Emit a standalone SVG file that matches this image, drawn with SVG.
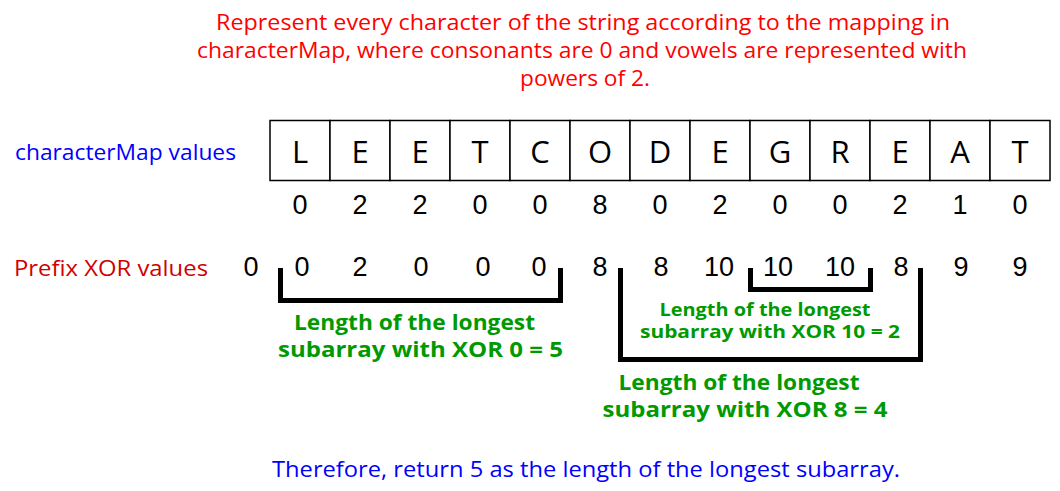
<svg xmlns="http://www.w3.org/2000/svg" width="1060" height="491" viewBox="0 0 1060 491">
<style>
.t{font-family:"Open Sans","Liberation Sans",sans-serif;text-anchor:middle}
.title{fill:#ff0000;font-size:21px}
.lab{font-family:"Open Sans","Liberation Sans",sans-serif;font-size:22px}
.blue{fill:#0000ff}
.dred{fill:#d00000}
.grn{fill:#009a00;font-weight:bold}
.g1{font-size:21px}
.g2{font-size:18px}
.cell{fill:#ffffff;stroke:#000000;stroke-width:1.5}
.ch{font-family:"Open Sans","Liberation Sans",sans-serif;font-size:31px;text-anchor:middle;fill:#000}
.num{font-family:"Liberation Sans",Arial,sans-serif;font-size:27px;text-anchor:middle;fill:#000}
.br{fill:none;stroke:#000;stroke-width:5;stroke-linejoin:miter;stroke-linecap:butt}
</style>
<rect width="1060" height="491" fill="#ffffff"/>
<g id="title">
<text class="t title" x="583" y="30" textLength="734" lengthAdjust="spacingAndGlyphs">Represent every character of the string according to the mapping in</text>
<text class="t title" x="582" y="58" textLength="770" lengthAdjust="spacingAndGlyphs">characterMap, where consonants are 0 and vowels are represented with</text>
<text class="t title" x="585" y="86" textLength="130" lengthAdjust="spacingAndGlyphs">powers of 2.</text>
</g>
<g id="labels">
<text class="lab blue" x="15" y="160" textLength="221" lengthAdjust="spacingAndGlyphs">characterMap values</text>
<text class="lab dred" x="14" y="276" textLength="194" lengthAdjust="spacingAndGlyphs">Prefix XOR values</text>
</g>
<g id="cells">
<g id="c0"><rect class="cell" x="270" y="120.5" width="60" height="60"/><text class="ch" x="300" y="163">L</text></g>
<g id="c1"><rect class="cell" x="330" y="120.5" width="60" height="60"/><text class="ch" x="360" y="163">E</text></g>
<g id="c2"><rect class="cell" x="390" y="120.5" width="60" height="60"/><text class="ch" x="420" y="163">E</text></g>
<g id="c3"><rect class="cell" x="450" y="120.5" width="60" height="60"/><text class="ch" x="480" y="163">T</text></g>
<g id="c4"><rect class="cell" x="510" y="120.5" width="60" height="60"/><text class="ch" x="540" y="163">C</text></g>
<g id="c5"><rect class="cell" x="570" y="120.5" width="60" height="60"/><text class="ch" x="600" y="163">O</text></g>
<g id="c6"><rect class="cell" x="630" y="120.5" width="60" height="60"/><text class="ch" x="660" y="163">D</text></g>
<g id="c7"><rect class="cell" x="690" y="120.5" width="60" height="60"/><text class="ch" x="720" y="163">E</text></g>
<g id="c8"><rect class="cell" x="750" y="120.5" width="60" height="60"/><text class="ch" x="780" y="163">G</text></g>
<g id="c9"><rect class="cell" x="810" y="120.5" width="60" height="60"/><text class="ch" x="840" y="163">R</text></g>
<g id="c10"><rect class="cell" x="870" y="120.5" width="60" height="60"/><text class="ch" x="900" y="163">E</text></g>
<g id="c11"><rect class="cell" x="930" y="120.5" width="60" height="60"/><text class="ch" x="960" y="163">A</text></g>
<g id="c12"><rect class="cell" x="990" y="120.5" width="60" height="60"/><text class="ch" x="1020" y="163">T</text></g>
</g>
<g id="values">
<text class="num" x="300" y="214">0</text>
<text class="num" x="360" y="214">2</text>
<text class="num" x="420" y="214">2</text>
<text class="num" x="480" y="214">0</text>
<text class="num" x="540" y="214">0</text>
<text class="num" x="600" y="214">8</text>
<text class="num" x="660" y="214">0</text>
<text class="num" x="720" y="214">2</text>
<text class="num" x="780" y="214">0</text>
<text class="num" x="840" y="214">0</text>
<text class="num" x="900" y="214">2</text>
<text class="num" x="960" y="214">1</text>
<text class="num" x="1020" y="214">0</text>
</g>
<g id="prefix">
<text class="num" x="251" y="276">0</text>
<text class="num" x="302" y="276">0</text>
<text class="num" x="360" y="276">2</text>
<text class="num" x="421" y="276">0</text>
<text class="num" x="483" y="276">0</text>
<text class="num" x="539" y="276">0</text>
<text class="num" x="600" y="276">8</text>
<text class="num" x="661" y="276">8</text>
<text class="num" x="719" y="276">10</text>
<text class="num" x="778" y="276">10</text>
<text class="num" x="840" y="276">10</text>
<text class="num" x="901" y="276">8</text>
<text class="num" x="961" y="276">9</text>
<text class="num" x="1020" y="276">9</text>
</g>
<g id="connectors">
<path class="br" d="M280.5 268 V300.5 H560.5 V268"/>
<path class="br" d="M620.5 268 V359.5 H920.5 V268"/>
<path class="br" d="M750.5 268 V289.5 H870.5 V268"/>
</g>
<g id="notes">
<text class="t grn g1" x="414.5" y="330" textLength="241" lengthAdjust="spacingAndGlyphs">Length of the longest</text>
<text class="t grn g1" x="420.5" y="357" textLength="285" lengthAdjust="spacingAndGlyphs">subarray with XOR 0 = 5</text>
<text class="t grn g2" x="765" y="316" textLength="211" lengthAdjust="spacingAndGlyphs">Length of the longest</text>
<text class="t grn g2" x="770" y="338" textLength="260" lengthAdjust="spacingAndGlyphs">subarray with XOR 10 = 2</text>
<text class="t grn g1" x="739" y="390" textLength="241" lengthAdjust="spacingAndGlyphs">Length of the longest</text>
<text class="t grn g1" x="745" y="417" textLength="285" lengthAdjust="spacingAndGlyphs">subarray with XOR 8 = 4</text>
</g>
<g id="footer">
<text class="t blue" x="586" y="477" font-size="21" textLength="628" lengthAdjust="spacingAndGlyphs">Therefore, return 5 as the length of the longest subarray.</text>
</g>
</svg>
